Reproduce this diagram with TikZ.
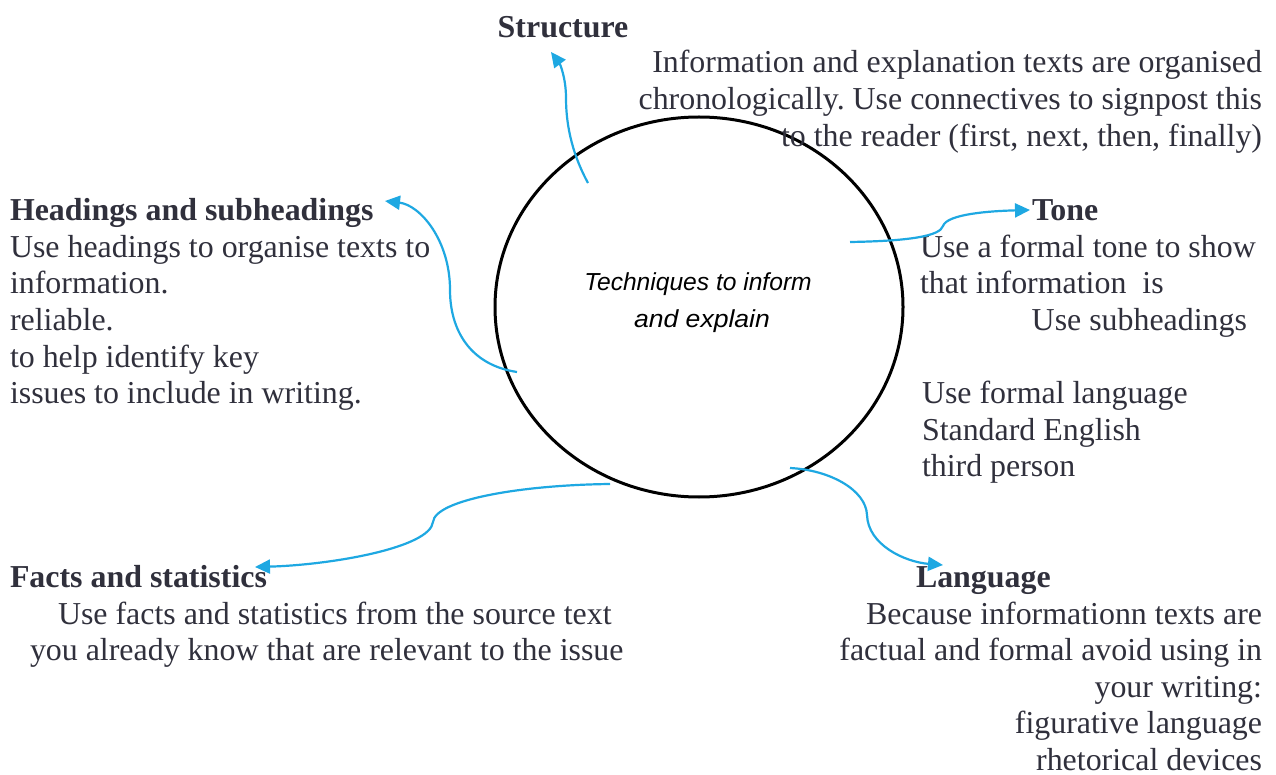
\documentclass[tikz,border=0pt]{standalone}
\usepackage{fontspec}
\setmainfont{Liberation Serif}
\newfontfamily\arialfont{Liberation Sans}
\usetikzlibrary{arrows.meta,shapes.geometric}
\definecolor{txt}{RGB}{48,48,60}
\definecolor{arrblue}{RGB}{30,168,226}
\frenchspacing
\begin{document}
\begin{tikzpicture}[x=1pt,y=-1pt,
  lbl/.style={inner sep=0pt, outer sep=0pt, text=txt, font=\fontsize{31.9}{36.6}\selectfont},
  hd/.style={lbl, font=\bfseries\fontsize{31.9}{36.6}\selectfont},
  ctr/.style={inner sep=0pt, text=black, font=\arialfont\itshape\fontsize{24.6}{36}\selectfont},
  conn/.style={draw=arrblue, line width=2.2pt, -{Triangle[length=15pt,width=14pt,fill=arrblue]}},
  ring/.style={draw=black, line width=3pt, ellipse, minimum width=408pt, minimum height=380pt, inner sep=0pt}]
\useasboundingbox (0,0) rectangle (1276,775);
\fill[white] (0,0) rectangle (1276,775);

% central circle
\node[ring] (c) at (699,307) {};
\node[ctr, anchor=base] (c1) at (698,291) {Techniques to inform};
\node[ctr, anchor=base] (c2) at (702,327) {\scalebox{1.08}[1]{and explain}};

% Structure
\node[hd, anchor=base] (sh) at (563,38) {Structure};
\node[lbl, anchor=base east] (s1) at (1262,73) {Information and explanation texts are organised};
\node[lbl, anchor=base east] (s2) at (1262,109.5) {chronologically. Use connectives to signpost this};
\node[lbl, anchor=base east] (s3) at (1262,146.5) {to the reader (first, next, then, finally)};

% Headings
\node[hd, anchor=base west] (hh) at (10,221) {Headings and subheadings};
\node[lbl, anchor=base west] (h1) at (10,257.5) {Use headings to organise texts to};
\node[lbl, anchor=base west] (h2) at (10,294) {information.};
\node[lbl, anchor=base west] (h3) at (10,330.5) {reliable.};
\node[lbl, anchor=base west] (h4) at (10,367) {to help identify key};
\node[lbl, anchor=base west] (h5) at (10,403.5) {issues to include in writing.};

% Tone
\node[hd, anchor=base west] (th) at (1032,221) {Tone};
\node[lbl, anchor=base west] (t1) at (920,257.5) {Use a formal tone to show};
\node[lbl, anchor=base west] (t2) at (920,294) {that information\ \ is};
\node[lbl, anchor=base east] (t3) at (1247,330.5) {Use subheadings};
\node[lbl, anchor=base west] (t4) at (922,403.5) {Use formal language};
\node[lbl, anchor=base west] (t5) at (922,440) {Standard English};
\node[lbl, anchor=base west] (t6) at (922,476.5) {third person};

% Facts
\node[hd, anchor=base west] (fh) at (10,587.5) {Facts and statistics};
\node[lbl, anchor=base west] (f1) at (58,624) {Use facts and statistics from the source text};
\node[lbl, anchor=base west] (f2) at (30,660.5) {you already know that are relevant to the issue};

% Language
\node[hd, anchor=base west] (lh) at (916,587.5) {Language};
\node[lbl, anchor=base east] (l1) at (1262,624) {Because informationn texts are};
\node[lbl, anchor=base east] (l2) at (1262,660.5) {factual and formal avoid using in};
\node[lbl, anchor=base east] (l3) at (1262,697) {your writing:};
\node[lbl, anchor=base east] (l4) at (1262,733.5) {figurative language};
\node[lbl, anchor=base east] (l5) at (1262,770) {rhetorical devices};

% connector end points
\coordinate (sA) at (588,183);  \coordinate (sB) at (551,52);
\coordinate (hA) at (517,372);  \coordinate (hB) at (385,201);
\coordinate (tA) at (850,242);  \coordinate (tB) at (1030,210);
\coordinate (fA) at (610,484);  \coordinate (fB) at (255,567);
\coordinate (lA) at (790,468);  \coordinate (lB) at (943,565);

\draw[conn] (sA) .. controls (570,150) and (566,120) .. (566,98) .. controls (566,78) and (560,64) .. (sB);
\draw[conn] (hA) .. controls (470,365) and (450,330) .. (450,290) .. controls (450,240) and (420,205) .. (hB);
\draw[conn] (tA) .. controls (910,241) and (940,236) .. (943,226) .. controls (947,214) and (990,211) .. (tB);
\draw[conn] (fA) .. controls (520,485) and (435,500) .. (433,522) .. controls (430,548) and (330,565) .. (fB);
\draw[conn] (lA) .. controls (830,470) and (866,490) .. (867,515) .. controls (868,545) and (905,562) .. (lB);
\end{tikzpicture}
\end{document}
